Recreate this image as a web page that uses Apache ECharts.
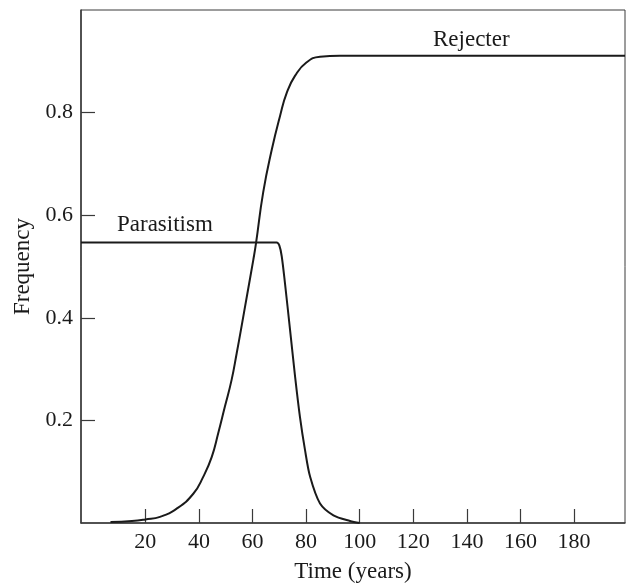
<!DOCTYPE html>
<html>
<head>
<meta charset="utf-8">
<script src="https://cdn.jsdelivr.net/npm/echarts@6/dist/echarts.min.js"></script>
<style>
  html, body { margin: 0; padding: 0; background: #fff; }
  #chart { width: 629px; height: 583px; }
</style>
</head>
<body>
<div id="chart"></div>
<script>
// values (time in years, frequency)
var rejecterYears = [7, 15, 20, 25.5, 31.7, 37.9, 41.6, 44.8, 47.2, 49.7, 52.2, 54.1, 55.7, 58, 60.3, 61.3, 64, 67.2, 70.3, 72.8, 75.9, 80.2, 85.2, 92.6, 199];
var rejecterFreq  = [0.002, 0.004, 0.007, 0.012, 0.028, 0.057, 0.09, 0.129, 0.175, 0.227, 0.279, 0.331, 0.377, 0.445, 0.513, 0.545, 0.645, 0.728, 0.794, 0.839, 0.872, 0.898, 0.909, 0.911, 0.911];

var parasitismYears = [-4, 69, 70, 70.9, 72.1, 74, 75.9, 77.7, 79.6, 81.5, 85.2, 90.2, 96.4, 100];
var parasitismFreq  = [0.547, 0.547, 0.541, 0.52, 0.468, 0.377, 0.285, 0.207, 0.142, 0.09, 0.038, 0.015, 0.004, 0];

var xTicks = [20, 40, 60, 80, 100, 120, 140, 160, 180];
var yTicks = [0.2, 0.4, 0.6, 0.8];

function pairs(xs, ys) {
  return xs.map(function (x, i) { return [x, ys[i]]; });
}

var font = "Liberation Serif";
var ink = "#1a1a1a";
var axisInk = "#3a3a3a";

var chart = echarts.init(document.getElementById("chart"));
var option = {
  backgroundColor: "#fff",
  animation: false,
  grid: {
    left: 81,
    top: 10,
    right: 4,
    bottom: 60,
    outerBoundsMode: "none",
    containLabel: false,
    show: true,
    borderColor: axisInk,
    borderWidth: 1
  },
  xAxis: {
    type: "value",
    min: -4,
    max: 199,
    name: "Time (years)",
    nameLocation: "middle",
    nameGap: 37,
    nameTextStyle: { color: ink, fontFamily: font, fontSize: 23 },
    axisLine: { onZero: false, lineStyle: { color: axisInk, width: 1.5 } },
    axisTick: { inside: true, length: 14, customValues: xTicks, lineStyle: { color: axisInk, width: 1.2 } },
    axisLabel: { customValues: xTicks, color: ink, fontFamily: font, fontSize: 22, margin: 8 },
    splitLine: { show: false }
  },
  yAxis: {
    type: "value",
    min: 0,
    max: 1,
    name: "Frequency",
    nameLocation: "middle",
    nameGap: 42,
    nameTextStyle: { color: ink, fontFamily: font, fontSize: 23 },
    axisLine: { onZero: false, lineStyle: { color: axisInk, width: 1.5 } },
    axisTick: { inside: true, length: 14, customValues: yTicks, lineStyle: { color: axisInk, width: 1.2 } },
    axisLabel: {
      customValues: yTicks, color: ink, fontFamily: font, fontSize: 22, margin: 8,
      formatter: function (v) { return v.toFixed(1); }
    },
    splitLine: { show: false }
  },
  graphic: [
    { type: "text", left: 433, top: 28, style: { text: "Rejecter", font: "23px " + font, fill: ink } },
    { type: "text", left: 117, top: 213, style: { text: "Parasitism", font: "23px " + font, fill: ink } }
  ],
  series: [
    {
      name: "Rejecter",
      type: "line",
      data: pairs(rejecterYears, rejecterFreq),
      smooth: 0.5,
      showSymbol: false,
      lineStyle: { color: ink, width: 2 }
    },
    {
      name: "Parasitism",
      type: "line",
      data: pairs(parasitismYears, parasitismFreq),
      smooth: 0.3,
      showSymbol: false,
      lineStyle: { color: ink, width: 2 }
    }
  ]
};
chart.setOption(option);
</script>
</body>
</html>
